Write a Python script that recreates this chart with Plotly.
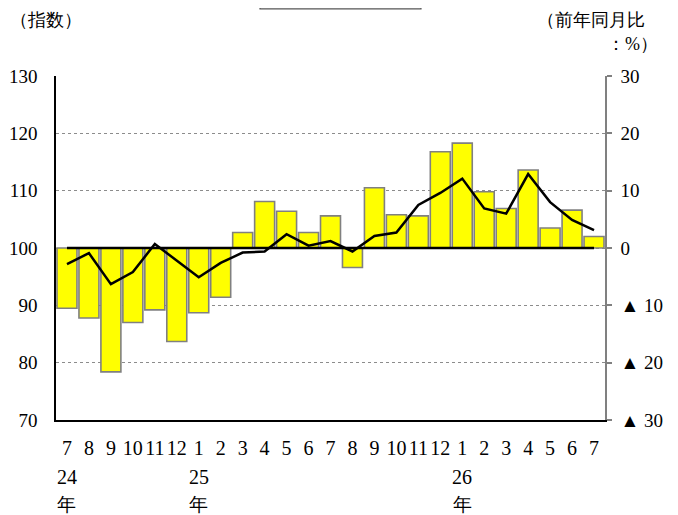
import plotly.graph_objects as go

months = ["7", "8", "9", "10", "11", "12", "1", "2", "3", "4", "5", "6",
          "7", "8", "9", "10", "11", "12", "1", "2", "3", "4", "5", "6", "7"]
year_positions = [0, 6, 18]
year_numbers = ["24", "25", "26"]
year_suffix = "年"

index_values = [89.5, 87.8, 78.4, 87.0, 89.2, 83.7, 88.7, 91.4, 102.7, 108.1,
                106.4, 102.7, 105.6, 96.6, 110.5, 105.8, 105.6, 116.8, 118.3,
                109.8, 106.9, 113.6, 103.5, 106.6, 102.0]
yoy_values = [-2.8, -0.9, -6.3, -4.2, 0.7, -2.2, -5.1, -2.6, -0.8, -0.6,
              2.4, 0.4, 1.2, -0.6, 2.1, 2.7, 7.5, 9.6, 12.1, 6.9, 6.0,
              12.9, 8.0, 4.9, 3.1]

left_ticks = [70, 80, 90, 100, 110, 120, 130]
right_ticks = [-30, -20, -10, 0, 10, 20, 30]
right_ticktext = ["▲ 30", "▲ 20", "▲ 10", "0", "10", "20", "30"]

BASE = 100
xs = list(range(len(months)))
FONT = "Liberation Serif"

fig = go.Figure()
fig.add_trace(go.Bar(
    x=xs, y=[v - BASE for v in index_values], base=BASE,
    marker=dict(color="#FFFF00", line=dict(color="#808080", width=1.6)),
    yaxis="y", showlegend=False,
))
fig.add_trace(go.Scatter(
    x=xs, y=yoy_values, mode="lines",
    line=dict(color="black", width=2.5),
    yaxis="y2", showlegend=False,
))

# zero baseline of the year-on-year line
fig.add_shape(type="line", xref="x", yref="y2", x0=xs[0], x1=xs[-1], y0=0, y1=0,
              line=dict(color="black", width=2.5))

# legend frame (clipped at top)
fig.add_shape(type="rect", xref="paper", yref="paper",
              x0=0.3716, x1=0.6648, y0=1.195, y1=1.26,
              line=dict(color="#555555", width=1.2), fillcolor="white")

for i, num in zip(year_positions, year_numbers):
    fig.add_annotation(x=i, y=0, xref="x", yref="paper", text=num,
                       showarrow=False, yanchor="top", yshift=-44,
                       font=dict(size=20, family=FONT, color="black"))
    fig.add_annotation(x=i, y=0, xref="x", yref="paper", text=year_suffix,
                       showarrow=False, yanchor="top", yshift=-72,
                       font=dict(size=19, family=FONT, color="black"))

fig.add_annotation(xref="paper", yref="paper", x=-0.0874, y=1.1628, xanchor="left",
                   yanchor="middle", text="（指数）", showarrow=False,
                   font=dict(size=18, family=FONT, color="black"))
fig.add_annotation(xref="paper", yref="paper", x=1.0765, y=1.197, xanchor="right",
                   yanchor="top", text="（前年同月比", showarrow=False,
                   font=dict(size=18, family=FONT, color="black"))
fig.add_annotation(xref="paper", yref="paper", x=1.1002, y=1.092, xanchor="right",
                   yanchor="middle", text="：%）", showarrow=False,
                   font=dict(size=18, family=FONT, color="black"))

fig.update_layout(
    width=670, height=507,
    margin=dict(l=48, r=73, t=68, b=95, autoexpand=False),
    plot_bgcolor="white", paper_bgcolor="white",
    bargap=0.09,
    font=dict(family=FONT, size=20, color="black"),
    xaxis=dict(
        range=[-0.5, len(xs) - 0.5], automargin=False,
        tickmode="array", tickvals=xs, ticktext=months,
        showline=True, linecolor="black", linewidth=1.5,
        ticks="", showgrid=False, zeroline=False, ticklabelstandoff=9,
        tickfont=dict(size=20, family=FONT),
    ),
    yaxis=dict(
        range=[70, 130], tickmode="array", tickvals=left_ticks, automargin=False,
        showline=True, linecolor="black", linewidth=1.5,
        ticks="", showgrid=True, gridcolor="#8c8c8c", griddash="dot",
        gridwidth=1, zeroline=False, ticklabelstandoff=13,
        tickfont=dict(size=19, family=FONT),
    ),
    yaxis2=dict(
        range=[-30, 30], overlaying="y", side="right", automargin=False,
        tickmode="array", tickvals=right_ticks, ticktext=right_ticktext,
        showline=True, linecolor="#808080", linewidth=1.5,
        ticks="outside", ticklen=5, tickcolor="#808080", tickwidth=1.5,
        showgrid=False, zeroline=False, ticklabelstandoff=5,
        tickfont=dict(size=19, family=FONT),
    ),
)

fig.write_html("out.html")
